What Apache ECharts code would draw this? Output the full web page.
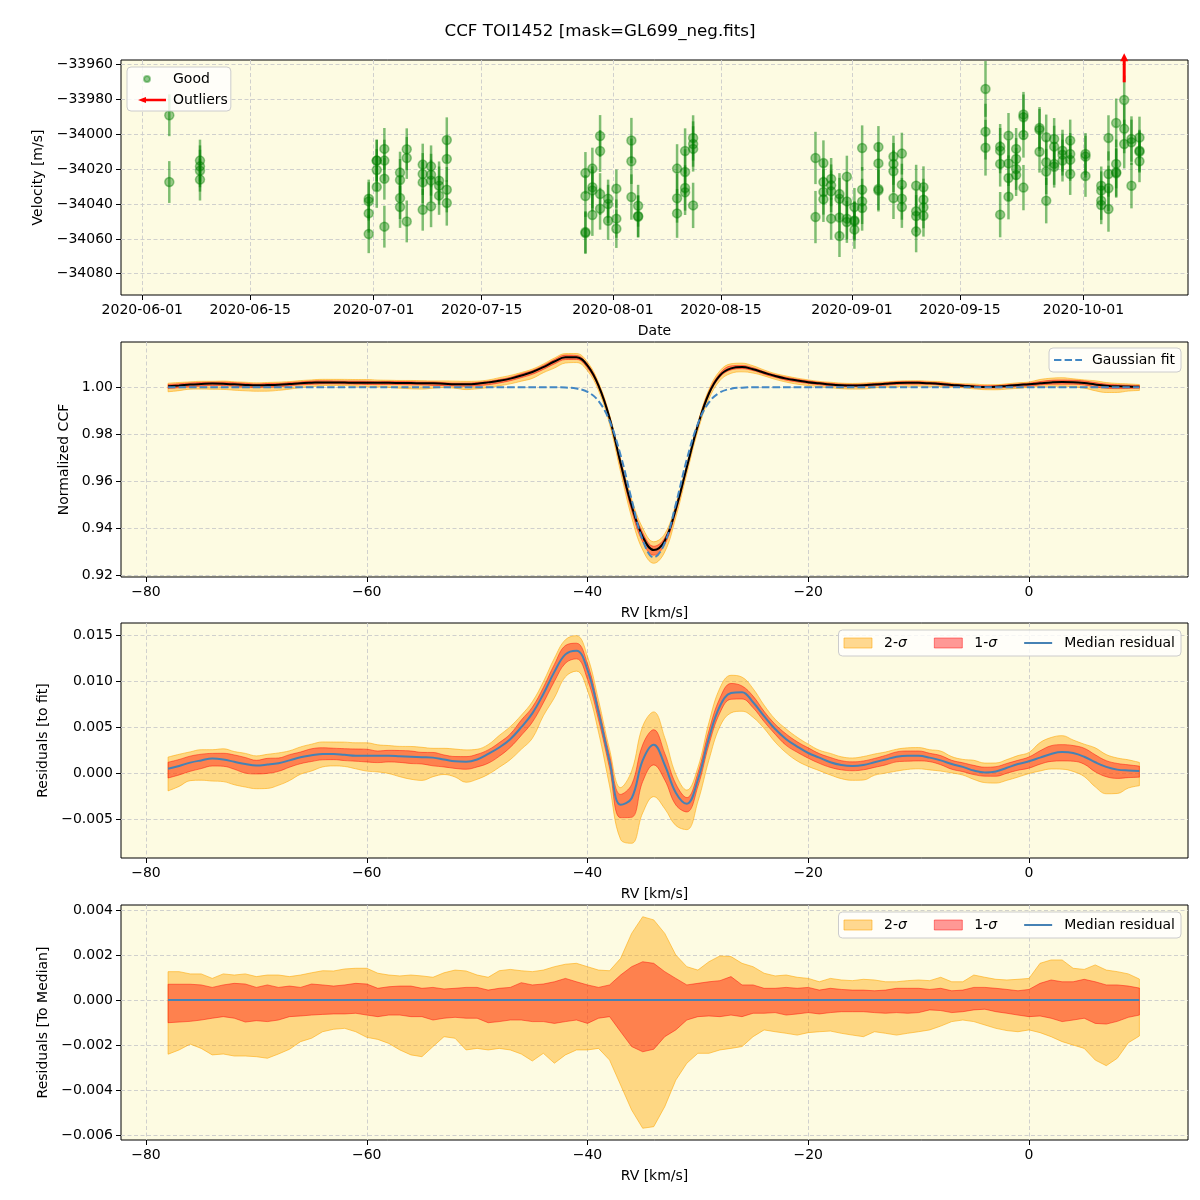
<!DOCTYPE html>
<html><head><meta charset="utf-8">
<script src="https://cdn.jsdelivr.net/npm/echarts@6/dist/echarts.min.js"></script>
<style>html,body{margin:0;padding:0;background:#fff}#c{width:1200px;height:1200px}</style>
</head><body><div id="c"></div>
<script>
const FONT = 'DejaVu Sans';

// ---------- Panel 1 data: nightly RVs ----------
const nightDates = ['2020-06-04T12:00','2020-06-08T11:30','2020-06-30T08:24','2020-07-01T09:22','2020-07-02T09:07',
 '2020-07-04T09:50','2020-07-05T06:43','2020-07-07T08:24','2020-07-08T10:19','2020-07-09T11:17','2020-07-10T11:17',
 '2020-07-28T10:34','2020-07-29T08:10','2020-07-30T08:10','2020-07-31T09:07','2020-08-01T10:48','2020-08-03T09:36',
 '2020-08-04T06:29','2020-08-09T07:41','2020-08-10T08:38','2020-08-11T09:36','2020-08-27T06:14','2020-08-28T06:58',
 '2020-08-29T06:58','2020-08-30T08:53','2020-08-31T07:55','2020-09-01T07:26','2020-09-02T07:26','2020-09-04T10:05',
 '2020-09-06T08:53','2020-09-07T11:02','2020-09-09T07:26','2020-09-10T06:14','2020-09-18T07:12','2020-09-20T04:48',
 '2020-09-21T06:43','2020-09-22T06:29','2020-09-23T05:17','2020-09-25T07:12','2020-09-26T04:05','2020-09-27T04:48',
 '2020-09-28T06:43','2020-09-29T06:43','2020-10-01T06:14','2020-10-03T07:12','2020-10-04T05:46','2020-10-05T05:46',
 '2020-10-06T06:43','2020-10-07T05:17','2020-10-08T06:14'];
const nightVel = [
 [-33989.1,-34027.4],[-34015.1,-34018.4,-34020.9,-34026.0],[-34037.0,-34038.5,-34045.4,-34057.2],
 [-34015.1,-34015.1,-34020.5,-34030.2],[-34008.4,-34015.1,-34025.5,-34053.0],[-34022.0,-34026.2,-34036.6,-34041.7],
 [-34008.6,-34013.6,-34050.0],[-34017.4,-34022.8,-34027.6,-34043.3],[-34018.4,-34023.2,-34026.6,-34041.3],
 [-34026.6,-34029.5,-34035.2],[-34003.3,-34014.2,-34031.8,-34039.4],
 [-34022.2,-34035.4,-34056.1,-34056.7],[-34019.7,-34030.4,-34032.2,-34046.3],[-34001.0,-34009.6,-34034.3,-34042.7],
 [-34037.0,-34040.0,-34049.6],[-34031.2,-34048.4,-34054.2],[-34003.6,-34015.5,-34036.0],[-34041.0,-34046.9,-34047.3],
 [-34019.7,-34036.7,-34045.4],[-34009.6,-34021.6,-34030.8,-34033.3],[-34002.1,-34005.6,-34008.4,-34040.8],
 [-34013.6,-34047.5],[-34016.5,-34027.4,-34033.1,-34037.3],[-34025.6,-34029.3,-34032.7,-34048.4],
 [-34034.3,-34037.0,-34047.7,-34058.4],[-34024.3,-34038.5,-34048.4,-34050.3],[-34041.8,-34049.4,-34050.0,-34054.7],
 [-34007.9,-34031.8,-34038.5,-34042.3],[-34007.3,-34016.7,-34031.4,-34032.3],[-34012.8,-34017.0,-34021.2,-34036.6],
 [-34011.1,-34028.9,-34037.0,-34041.7],[-34029.5,-34044.2,-34046.9,-34055.7],[-34030.4,-34037.5,-34041.9,-34046.7],
 [-33974.0,-33998.5,-34007.7],[-34007.1,-34009.4,-34017.0,-34046.1],[-34000.8,-34016.7,-34025.1,-34035.8],
 [-34008.4,-34014.2,-34019.9,-34023.4],[-33988.7,-33990.2,-34000.4,-34030.6],[-33996.4,-33997.5,-34010.0],
 [-34001.7,-34016.1,-34021.4,-34038.1],[-34002.7,-34007.1,-34017.0,-34018.6],[-34009.4,-34011.7,-34015.1],
 [-34003.6,-34011.3,-34014.7,-34022.8],[-34011.3,-34012.8,-34023.9],[-34029.5,-34032.3,-34038.1,-34040.6],
 [-34002.1,-34022.8,-34031.0,-34042.9],[-33993.5,-34017.0,-34021.8,-34022.4],[-33980.3,-33996.9,-34005.6],
 [-34002.7,-34004.6,-34029.5],[-34001.9,-34009.4,-34010.0,-34015.5]];
const nightErr = [12,12,11,12,12,12,12,12,12,11,13,12,12,12,11,11,13,12,14,13,13,15,13,12,12,12,11,13,12,12,12,12,12,
 16,13,13,12,13,12,13,12,12,12,12,11,13,14,14,13,12];
const outlierDate = '2020-10-06T06:43';
const outlierArrow = [-33970.2, -33953.5];   // [tail, tip]
const dateTicks = ['2020-06-01','2020-06-15','2020-07-01','2020-07-15','2020-08-01','2020-08-15','2020-09-01','2020-09-15','2020-10-01'];
const velTicks = [-34080,-34060,-34040,-34020,-34000,-33980,-33960];

// ---------- CCF / residual data on RV grid ----------
const rv = [-78,-77,-76,-75,-74,-73,-72,-71,-70,-69,-68,-67,-66,-65,-64,-63,-62,-61,-60,-59,-58,-57,-56,-55,-54,-53,-52,-51,-50,
 -49,-48,-47,-46,-45,-44,-43,-42,-41,-40,-39,-38,-37,-36,-35,-34,-33,-32,-31,-30,-29,-28,-27,-26,-25,-24,-23,-22,-21,-20,
 -19,-18,-17,-16,-15,-14,-13,-12,-11,-10,-9,-8,-7,-6,-5,-4,-3,-2,-1,0,1,2,3,4,5,6,7,8,9,10];
const gaussFit = [1,1,1,1,1,1,1,1,1,1,1,1,1,1,1,1,1,1,1,1,1,1,1,1,1,1,1,1,1,1,1,1,1,1,1,1,
 0.99988,0.99947,0.99805,0.99416,0.98565,0.97107,0.95213,0.93497,0.92752,0.93368,0.95019,0.9693,0.98447,0.99355,0.9978,0.99939,0.99986,
 1,1,1,1,1,1,1,1,1,1,1,1,1,1,1,1,1,1,1,1,1,1,1,1,1,1,1,1,1,1,1,1,1,1,1,1];
const medianResidual = [0.0005,0.0008,0.00116,0.0014,0.0016,0.0015,0.00125,0.001,0.00085,0.00095,0.0011,0.0014,0.00175,0.00195,
 0.0021,0.0021,0.002,0.0019,0.0019,0.0019,0.0019,0.00185,0.0018,0.00175,0.0017,0.0015,0.0013,0.00125,0.0015,0.0021,0.0028,0.0037,
 0.005,0.0065,0.0086,0.011,0.0129,0.0133,0.0112,0.0066,0.0013,-0.0034,-0.0027,0.0014,0.0031,0.0009,-0.0021,-0.0033,-0.0007,0.0038,
 0.0073,0.0087,0.0088,0.0077,0.0062,0.0048,0.0037,0.0029,0.0022,0.0017,0.0012,0.0009,0.0008,0.0009,0.0012,0.0015,0.0018,0.0019,
 0.0019,0.0017,0.0014,0.001,0.0007,0.0003,0.0001,0.0002,0.0006,0.001,0.0013,0.0017,0.0021,0.0023,0.0022,0.0018,0.0012,0.0007,
 0.0004,0.0003,0.00025];
const sig2Hi = [0.00126,0.00126,0.00116,0.00116,0.00096,0.00116,0.00111,0.00116,0.00104,0.00111,0.00111,0.00104,0.00111,0.00121,
 0.0013,0.00129,0.00138,0.00141,0.00141,0.00119,0.00111,0.00107,0.00111,0.00107,0.00101,0.00121,0.00133,0.00129,0.00111,0.00101,
 0.0013,0.00136,0.0013,0.00126,0.00133,0.00148,0.00159,0.00163,0.00148,0.00133,0.0013,0.00185,0.00296,0.0037,0.00356,0.00296,
 0.002,0.00148,0.00133,0.0017,0.00196,0.00193,0.00163,0.00148,0.00119,0.00107,0.00111,0.00101,0.00096,0.00081,0.00096,0.00089,
 0.00086,0.00092,0.00089,0.00081,0.00081,0.00086,0.00089,0.00086,0.00101,0.00081,0.00081,0.00111,0.00101,0.00092,0.00089,0.00092,
 0.00096,0.00163,0.00178,0.00178,0.00141,0.00136,0.00156,0.00133,0.00126,0.00116,0.00093];
const sig1Hi = [0.0007,0.0007,0.0007,0.00067,0.00056,0.00067,0.00074,0.00071,0.00056,0.00067,0.00056,0.00062,0.00056,0.00071,
 0.00067,0.00062,0.00067,0.00074,0.00071,0.00052,0.00059,0.00062,0.00062,0.00052,0.00056,0.00049,0.00052,0.00056,0.00056,0.00044,
 0.00052,0.00056,0.00077,0.00067,0.00071,0.00081,0.00096,0.00081,0.00067,0.00056,0.00067,0.00111,0.00148,0.0017,0.00163,0.00126,
 0.00096,0.00067,0.00074,0.00081,0.00086,0.00104,0.00067,0.00067,0.00052,0.00052,0.00056,0.00052,0.00056,0.00044,0.00052,0.00047,
 0.00044,0.00044,0.00041,0.00044,0.00052,0.00052,0.00052,0.00047,0.00052,0.00041,0.00044,0.00056,0.00056,0.00052,0.00047,0.00041,
 0.00047,0.00074,0.00089,0.00081,0.00081,0.00092,0.00081,0.00067,0.00067,0.00062,0.00053];
const sig1Lo = [-0.00101,-0.00098,-0.00095,-0.00089,-0.00081,-0.00074,-0.00081,-0.00098,-0.00092,-0.00096,-0.00089,-0.00074,
 -0.00071,-0.00067,-0.00064,-0.00062,-0.00062,-0.00059,-0.00067,-0.00074,-0.00067,-0.00067,-0.00074,-0.00074,-0.00089,-0.00081,
 -0.00077,-0.00081,-0.00081,-0.00101,-0.00096,-0.00089,-0.00089,-0.00096,-0.00096,-0.00104,-0.00096,-0.00089,-0.00104,-0.00081,
 -0.00074,-0.00141,-0.00207,-0.0023,-0.00219,-0.00163,-0.00133,-0.00089,-0.00074,-0.00071,-0.00074,-0.00067,-0.00074,-0.00059,
 -0.00059,-0.00056,-0.00067,-0.00062,-0.00056,-0.00062,-0.00056,-0.00052,-0.00052,-0.00052,-0.00056,-0.00059,-0.00056,-0.00059,
 -0.00056,-0.00044,-0.00047,-0.00056,-0.00052,-0.00044,-0.00041,-0.00052,-0.00059,-0.00067,-0.00074,-0.00071,-0.00081,-0.00096,
 -0.00089,-0.00081,-0.00104,-0.00107,-0.00095,-0.00077,-0.00067];
const sig2Lo = [-0.00241,-0.00222,-0.00196,-0.00215,-0.00244,-0.0024,-0.00249,-0.00249,-0.00252,-0.00259,-0.0024,-0.00219,
 -0.00185,-0.0017,-0.00141,-0.0013,-0.00126,-0.00141,-0.00166,-0.00175,-0.00193,-0.00222,-0.00244,-0.00252,-0.00207,-0.00163,
 -0.0017,-0.00222,-0.00215,-0.00222,-0.00215,-0.00222,-0.0024,-0.00271,-0.00237,-0.00281,-0.00244,-0.00222,-0.00222,-0.00215,
 -0.00267,-0.00378,-0.00489,-0.0057,-0.00563,-0.00474,-0.00356,-0.00281,-0.00237,-0.00237,-0.00222,-0.00215,-0.00207,-0.00163,
 -0.00133,-0.00141,-0.00148,-0.00156,-0.00145,-0.00141,-0.00138,-0.00148,-0.00156,-0.00163,-0.00141,-0.00148,-0.00156,-0.00148,
 -0.00141,-0.00133,-0.00116,-0.00096,-0.00089,-0.00096,-0.00111,-0.00126,-0.00136,-0.00141,-0.00133,-0.00145,-0.00163,-0.00185,
 -0.002,-0.00215,-0.00267,-0.00292,-0.00259,-0.0019,-0.0016];
const rvTicks = [-80,-60,-40,-20,0];
const ccfTicks = [0.92,0.94,0.96,0.98,1.00];
const resTicks = [-0.005,0,0.005,0.010,0.015];
const medTicks = [-0.006,-0.004,-0.002,0,0.002,0.004];

// ---------- build ----------
const T = s => Date.parse(s + ':00Z');
const goodPts = [];
nightDates.forEach((d, i) => nightVel[i].forEach(v => goodPts.push([T(d), v, nightErr[i]])));
const ccf = rv.map((x, i) => gaussFit[i] + medianResidual[i]);
const zeros = rv.map(() => 0);
const minus = s => s.replace('-', '\u2212');

const C2F = 'rgba(255,165,0,0.42)', C2E = 'rgba(255,165,0,0.55)';
const C1F = 'rgba(255,0,0,0.4)', C1E = 'rgba(255,0,0,0.45)';
const BLUE = '#4682b4';
const SM = 0.4;

// same smoothing rule as the ECharts line series, applied to pixel points from api.coord
function bez(pts, s, start) {
  let d = (start ? 'M' : 'L') + pts[0][0] + ',' + pts[0][1];
  if (!s) { for (let i = 1; i < pts.length; i++) d += 'L' + pts[i][0] + ',' + pts[i][1]; return d; }
  let cp0 = pts[0].slice();
  for (let i = 1; i < pts.length; i++) {
    const x = pts[i][0], y = pts[i][1], px = pts[i - 1][0], py = pts[i - 1][1];
    let cp1, nxt;
    if (i === pts.length - 1) { cp1 = [x, y]; nxt = [x, y]; }
    else {
      const nx = pts[i + 1][0], ny = pts[i + 1][1];
      const vx = nx - px, vy = ny - py;
      const l0 = Math.hypot(x - px, y - py) || 1e-6, l1 = Math.hypot(nx - x, ny - y) || 1e-6;
      const r = l1 / (l0 + l1);
      let ncx = x + vx * s * r, ncy = y + vy * s * r;
      ncx = Math.max(Math.min(ncx, Math.max(nx, x)), Math.min(nx, x));
      ncy = Math.max(Math.min(ncy, Math.max(ny, y)), Math.min(ny, y));
      let wx = ncx - x, wy = ncy - y;
      let c1x = x - wx * l0 / l1, c1y = y - wy * l0 / l1;
      c1x = Math.max(Math.min(c1x, Math.max(px, x)), Math.min(px, x));
      c1y = Math.max(Math.min(c1y, Math.max(py, y)), Math.min(py, y));
      wx = x - c1x; wy = y - c1y;
      ncx = x + wx * l1 / l0; ncy = y + wy * l1 / l0;
      cp1 = [c1x, c1y]; nxt = [ncx, ncy];
    }
    d += 'C' + cp0[0] + ',' + cp0[1] + ' ' + cp1[0] + ',' + cp1[1] + ' ' + x + ',' + y;
    cp0 = nxt;
  }
  return d;
}

function band(name, ai, center, lo, hi, fill, edge, s) {
  const data = rv.map((x, i) => [x, center[i] + lo[i], center[i] + hi[i]]);
  return {
    type: 'custom', name, xAxisIndex: ai, yAxisIndex: ai, data, clip: true, silent: true,
    encode: {x: 0, y: [1, 2]},
    renderItem: (params, api) => {
      if (params.dataIndex !== 0) return null;
      const up = data.map(p => api.coord([p[0], p[2]]));
      const dn = data.map(p => api.coord([p[0], p[1]])).reverse();
      return {type: 'path', shape: {pathData: bez(up, s, true) + bez(dn, s, false) + 'Z'},
              style: {fill, stroke: edge, lineWidth: 1}};
    }
  };
}

const gridBase = {left: 121, width: 1067, height: 235, show: true, backgroundColor: '#FDFBE2',
  borderColor: '#000', borderWidth: 1};
const tops = [60, 342, 623, 905];

function axis(extra, ticks, fmt) {
  return Object.assign({
    axisLine: {show: false, onZero: false},
    axisTick: {show: true, inside: false, length: 5, lineStyle: {color: '#000', width: 1}, customValues: ticks},
    axisLabel: {color: '#000', fontSize: 14, fontFamily: FONT, margin: 8, customValues: ticks, formatter: fmt},
    splitLine: {show: true, lineStyle: {color: '#cbcbcb', type: [4, 2.5], width: 0.9}},
    nameLocation: 'middle',
    nameTextStyle: {color: '#000', fontSize: 14, fontFamily: FONT}
  }, extra);
}

const rvFmt = v => minus(String(v));
const xAxes = [
  axis({type: 'value', gridIndex: 0, position: 'bottom', min: T('2020-05-29T05:45'), max: T('2020-10-14T13:10'), name: 'Date', nameGap: 29},
    dateTicks.map(d => T(d + 'T00:00')), v => new Date(v).toISOString().slice(0, 10)),
  axis({type: 'value', gridIndex: 1, position: 'bottom', min: -82.265, max: 14.405, name: 'RV [km/s]', nameGap: 29}, rvTicks, rvFmt),
  axis({type: 'value', gridIndex: 2, position: 'bottom', min: -82.265, max: 14.405, name: 'RV [km/s]', nameGap: 29}, rvTicks, rvFmt),
  axis({type: 'value', gridIndex: 3, position: 'bottom', min: -82.265, max: 14.405, name: 'RV [km/s]', nameGap: 29}, rvTicks, rvFmt)
];
const yAxes = [
  axis({type: 'value', gridIndex: 0, position: 'left', min: -34092.2, max: -33957.4, name: 'Velocity [m/s]', nameGap: 69}, velTicks, v => minus(String(v))),
  axis({type: 'value', gridIndex: 1, position: 'left', min: 0.91915, max: 1.01931, name: 'Normalized CCF', nameGap: 44}, ccfTicks, v => v.toFixed(2)),
  axis({type: 'value', gridIndex: 2, position: 'left', min: -0.009185, max: 0.0163, name: 'Residuals [to fit]', nameGap: 63}, resTicks, v => minus(v.toFixed(3))),
  axis({type: 'value', gridIndex: 3, position: 'left', min: -0.006222, max: 0.004222, name: 'Residuals [To Median]', nameGap: 63}, medTicks, v => (Math.abs(v) < 1e-12 ? '0.000' : minus(v.toFixed(3))))
];

const BOX14 = 'M0,0L0,0M28,14L28,14';
const BOX10 = 'M0,0L0,0M28,10L28,10';
const dot = 'path://' + BOX14 + 'M6,7A3,3 0 1 1 12,7A3,3 0 1 1 6,7Z';
const arrowIcon = 'path://' + BOX14 + 'M0,7L8,4L8,5.8L28,5.8L28,8.2L8,8.2L8,10Z';
const dashIcon = 'path://' + BOX14 + 'M0,6L7.4,6L7.4,8L0,8Z M10.6,6L18,6L18,8L10.6,8Z M21.2,6L28,6L28,8L21.2,8Z';
const lineIcon = 'path://' + BOX10 + 'M0,4L28,4L28,6L0,6Z';

function legText(pad) {
  return {
    fontSize: 14, fontFamily: FONT, color: '#000',
    rich: {n: {fontSize: 14, fontFamily: FONT, color: '#000', padding: [0, 0, 0, pad]},
           s: {fontSize: 14, fontFamily: FONT, fontStyle: 'italic', color: '#000'}}
  };
}
const legFmt = name => name.indexOf('σ') >= 0 ? '{n|' + name.slice(0, 2) + '}{s|σ}' : '{n|' + name + '}';
const legBox = {backgroundColor: 'rgba(255,255,255,0.8)', borderColor: '#cccccc', borderWidth: 1, borderRadius: 4,
  selectedMode: false, formatter: legFmt};
const sigLegendData = [
  {name: '2-σ', icon: 'rect', itemStyle: {color: C2F, borderColor: C2E, borderWidth: 1}},
  {name: '1-σ', icon: 'rect', itemStyle: {color: C1F, borderColor: C1E, borderWidth: 1}},
  {name: 'Median residual', icon: lineIcon, itemStyle: {color: BLUE}}
];

const series = [
  // panel 1
  {type: 'custom', name: 'errbars', xAxisIndex: 0, yAxisIndex: 0, data: goodPts, clip: true, silent: true,
   encode: {x: 0, y: 1},
   renderItem: (params, api) => {
     const t = api.value(0), v = api.value(1), e = api.value(2);
     const a = api.coord([t, v - e]), b = api.coord([t, v + e]);
     return {type: 'line', shape: {x1: a[0], y1: a[1], x2: b[0], y2: b[1]},
             style: {stroke: 'rgba(0,128,0,0.5)', lineWidth: 2.5}};
   }},
  {type: 'scatter', name: 'Good', xAxisIndex: 0, yAxisIndex: 0, data: goodPts.map(p => [p[0], p[1]]),
   symbolSize: 9, silent: true, clip: true,
   itemStyle: {color: 'rgba(0,128,0,0.5)', borderColor: 'rgba(0,128,0,0.5)', borderWidth: 1.5}},
  {type: 'custom', name: 'Outliers', xAxisIndex: 0, yAxisIndex: 0, clip: false, silent: true, z: 5,
   data: [[T(outlierDate), outlierArrow[0], outlierArrow[1]]], encode: {x: 0, y: [1, 2]},
   renderItem: (params, api) => {
     const a = api.coord([api.value(0), api.value(1)]), b = api.coord([api.value(0), api.value(2)]);
     return {type: 'group', children: [
       {type: 'line', shape: {x1: a[0], y1: a[1], x2: b[0], y2: b[1] + 7}, style: {stroke: '#ff0000', lineWidth: 3}},
       {type: 'polygon', shape: {points: [[b[0], b[1]], [b[0] - 4, b[1] + 8], [b[0] + 4, b[1] + 8]]}, style: {fill: '#ff0000'}}
     ]};
   }},
  // panel 2
  band('ccf 2-sigma', 1, ccf, sig2Lo, sig2Hi, C2F, C2E, SM),
  band('ccf 1-sigma', 1, ccf, sig1Lo, sig1Hi, C1F, C1E, SM),
  {type: 'line', name: 'CCF median', xAxisIndex: 1, yAxisIndex: 1, data: rv.map((x, i) => [x, ccf[i]]),
   symbol: 'none', smooth: SM, silent: true, lineStyle: {color: '#000', width: 2}},
  {type: 'line', name: 'Gaussian fit', xAxisIndex: 1, yAxisIndex: 1, data: rv.map((x, i) => [x, gaussFit[i]]),
   symbol: 'none', smooth: SM, silent: true, itemStyle: {color: '#4287c4'},
   lineStyle: {color: '#4287c4', width: 2, type: [7.4, 3.2]}},
  // panel 3
  band('2-σ', 2, medianResidual, sig2Lo, sig2Hi, C2F, C2E, SM),
  band('1-σ', 2, medianResidual, sig1Lo, sig1Hi, C1F, C1E, SM),
  {type: 'line', name: 'Median residual', xAxisIndex: 2, yAxisIndex: 2, data: rv.map((x, i) => [x, medianResidual[i]]),
   symbol: 'none', smooth: SM, silent: true, itemStyle: {color: BLUE}, lineStyle: {color: BLUE, width: 2}},
  // panel 4
  band('2-σ', 3, zeros, sig2Lo, sig2Hi, C2F, C2E, 0),
  band('1-σ', 3, zeros, sig1Lo, sig1Hi, C1F, C1E, 0),
  {type: 'line', name: 'Median residual', xAxisIndex: 3, yAxisIndex: 3, data: rv.map((x, i) => [x, zeros[i]]),
   symbol: 'none', silent: true, itemStyle: {color: BLUE}, lineStyle: {color: BLUE, width: 2}}
];

const option = {
  animation: false,
  backgroundColor: '#ffffff',
  textStyle: {fontFamily: FONT},
  title: {text: 'CCF TOI1452 [mask=GL699_neg.fits]', left: 'center', top: 23, padding: 0,
    textStyle: {fontSize: 16.7, fontWeight: 'normal', color: '#000', fontFamily: FONT}},
  grid: tops.map(t => Object.assign({top: t}, gridBase)),
  xAxis: xAxes,
  yAxis: yAxes,
  legend: [
    Object.assign({}, legBox, {left: 127, top: 67, orient: 'vertical', itemWidth: 28, itemHeight: 14, itemGap: 6,
      padding: [4, 3, 4, 10], textStyle: legText(2),
      data: [{name: 'Good', icon: dot, itemStyle: {color: 'rgba(0,128,0,0.55)'}},
             {name: 'Outliers', icon: arrowIcon, itemStyle: {color: '#ff0000'}}]}),
    Object.assign({}, legBox, {right: 19, top: 348, itemWidth: 28, itemHeight: 14, padding: [5, 6, 5, 5],
      textStyle: legText(5),
      data: [{name: 'Gaussian fit', icon: dashIcon, itemStyle: {color: '#4287c4'}}]}),
    Object.assign({}, legBox, {right: 19, top: 630, itemWidth: 28, itemHeight: 10, itemGap: 27, padding: [6, 6, 6, 5],
      textStyle: legText(7), data: sigLegendData}),
    Object.assign({}, legBox, {right: 19, top: 912, itemWidth: 28, itemHeight: 10, itemGap: 27, padding: [6, 6, 6, 5],
      textStyle: legText(7), data: sigLegendData})
  ],
  series
};

const chart = echarts.init(document.getElementById('c'), null, {renderer: 'canvas', width: 1200, height: 1200});
chart.setOption(option);
</script></body></html>
